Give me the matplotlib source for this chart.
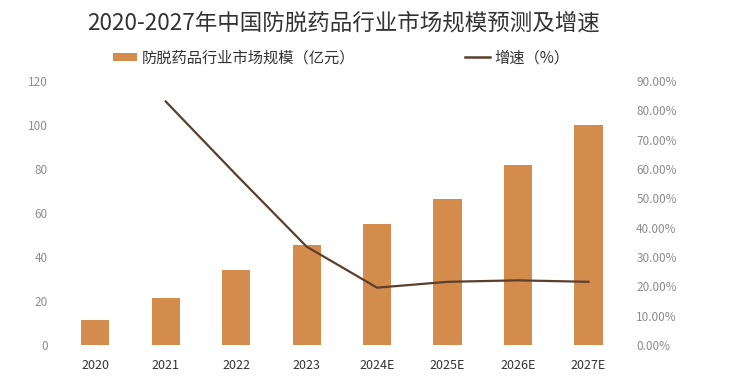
# -*- coding: utf-8 -*-
# 2020-2027 防脱药品行业市场规模及增速 (bar + line, twin axes)
import matplotlib
matplotlib.use('Agg')
import matplotlib.pyplot as plt
import matplotlib.ticker as mticker
from matplotlib.patches import Patch
from matplotlib.lines import Line2D

plt.rcParams['font.family'] = ['Noto Sans CJK SC', 'DejaVu Sans']

years = ['2020', '2021', '2022', '2023', '2024E', '2025E', '2026E', '2027E']
market_size = [11.5, 21.5, 34.0, 45.5, 55.0, 66.5, 82.0, 100.0]   # 亿元
growth = [None, 83.0, 58.0, 33.5, 19.5, 21.5, 22.0, 21.5]        # %

bar_color = '#D48C4C'
line_color = '#5B3F2D'

fig = plt.figure(figsize=(7.32, 3.91), dpi=100)
ax = fig.add_axes([0.082, 0.118, 0.77, 0.675])
ax2 = ax.twinx()

x = list(range(len(years)))
ax.bar(x, market_size, width=0.4, color=bar_color, zorder=2)

gx = [i for i, g in zip(x, growth) if g is not None]
gy = [g / 100 for g in growth if g is not None]
ax2.plot(gx, gy, color=line_color, linewidth=1.6, zorder=3)

ax.set_xlim(-0.5, len(years) - 0.5)
ax.set_ylim(0, 120)
ax.set_yticks(range(0, 121, 20))
ax2.set_ylim(0, 0.9)
ax2.set_yticks([i / 10 for i in range(10)])
ax2.yaxis.set_major_formatter(mticker.FuncFormatter(lambda v, p: '%.2f%%' % (v * 100)))

ax.set_xticks(x)
ax.set_xticklabels(years)

for a in (ax, ax2):
    for s in a.spines.values():
        s.set_visible(False)
    a.tick_params(length=0)
ax.tick_params(axis='x', labelsize=9, colors='#333333', pad=10)
ax.tick_params(axis='y', labelsize=8.5, colors='#8c8c8c', pad=9)
ax2.tick_params(axis='y', labelsize=8.5, colors='#8c8c8c', pad=9)

fig.text(0.469, 0.942, '2020-2027年中国防脱药品行业市场规模预测及增速',
         ha='center', va='center', fontsize=16.2, color='#333333')

handles = [Patch(facecolor=bar_color, edgecolor='none', label='防脱药品行业市场规模（亿元）'),
           Line2D([0], [0], color=line_color, linewidth=1.8, label='增速（%）')]
leg = fig.legend(handles=handles, loc='center', bbox_to_anchor=(0.466, 0.852), ncol=2,
                 frameon=False, fontsize=11, columnspacing=7.2, handlelength=1.6,
                 handleheight=0.5, handletextpad=0.3)
for t in leg.get_texts():
    t.set_color('#333333')

fig.savefig('out.png', dpi=100)
